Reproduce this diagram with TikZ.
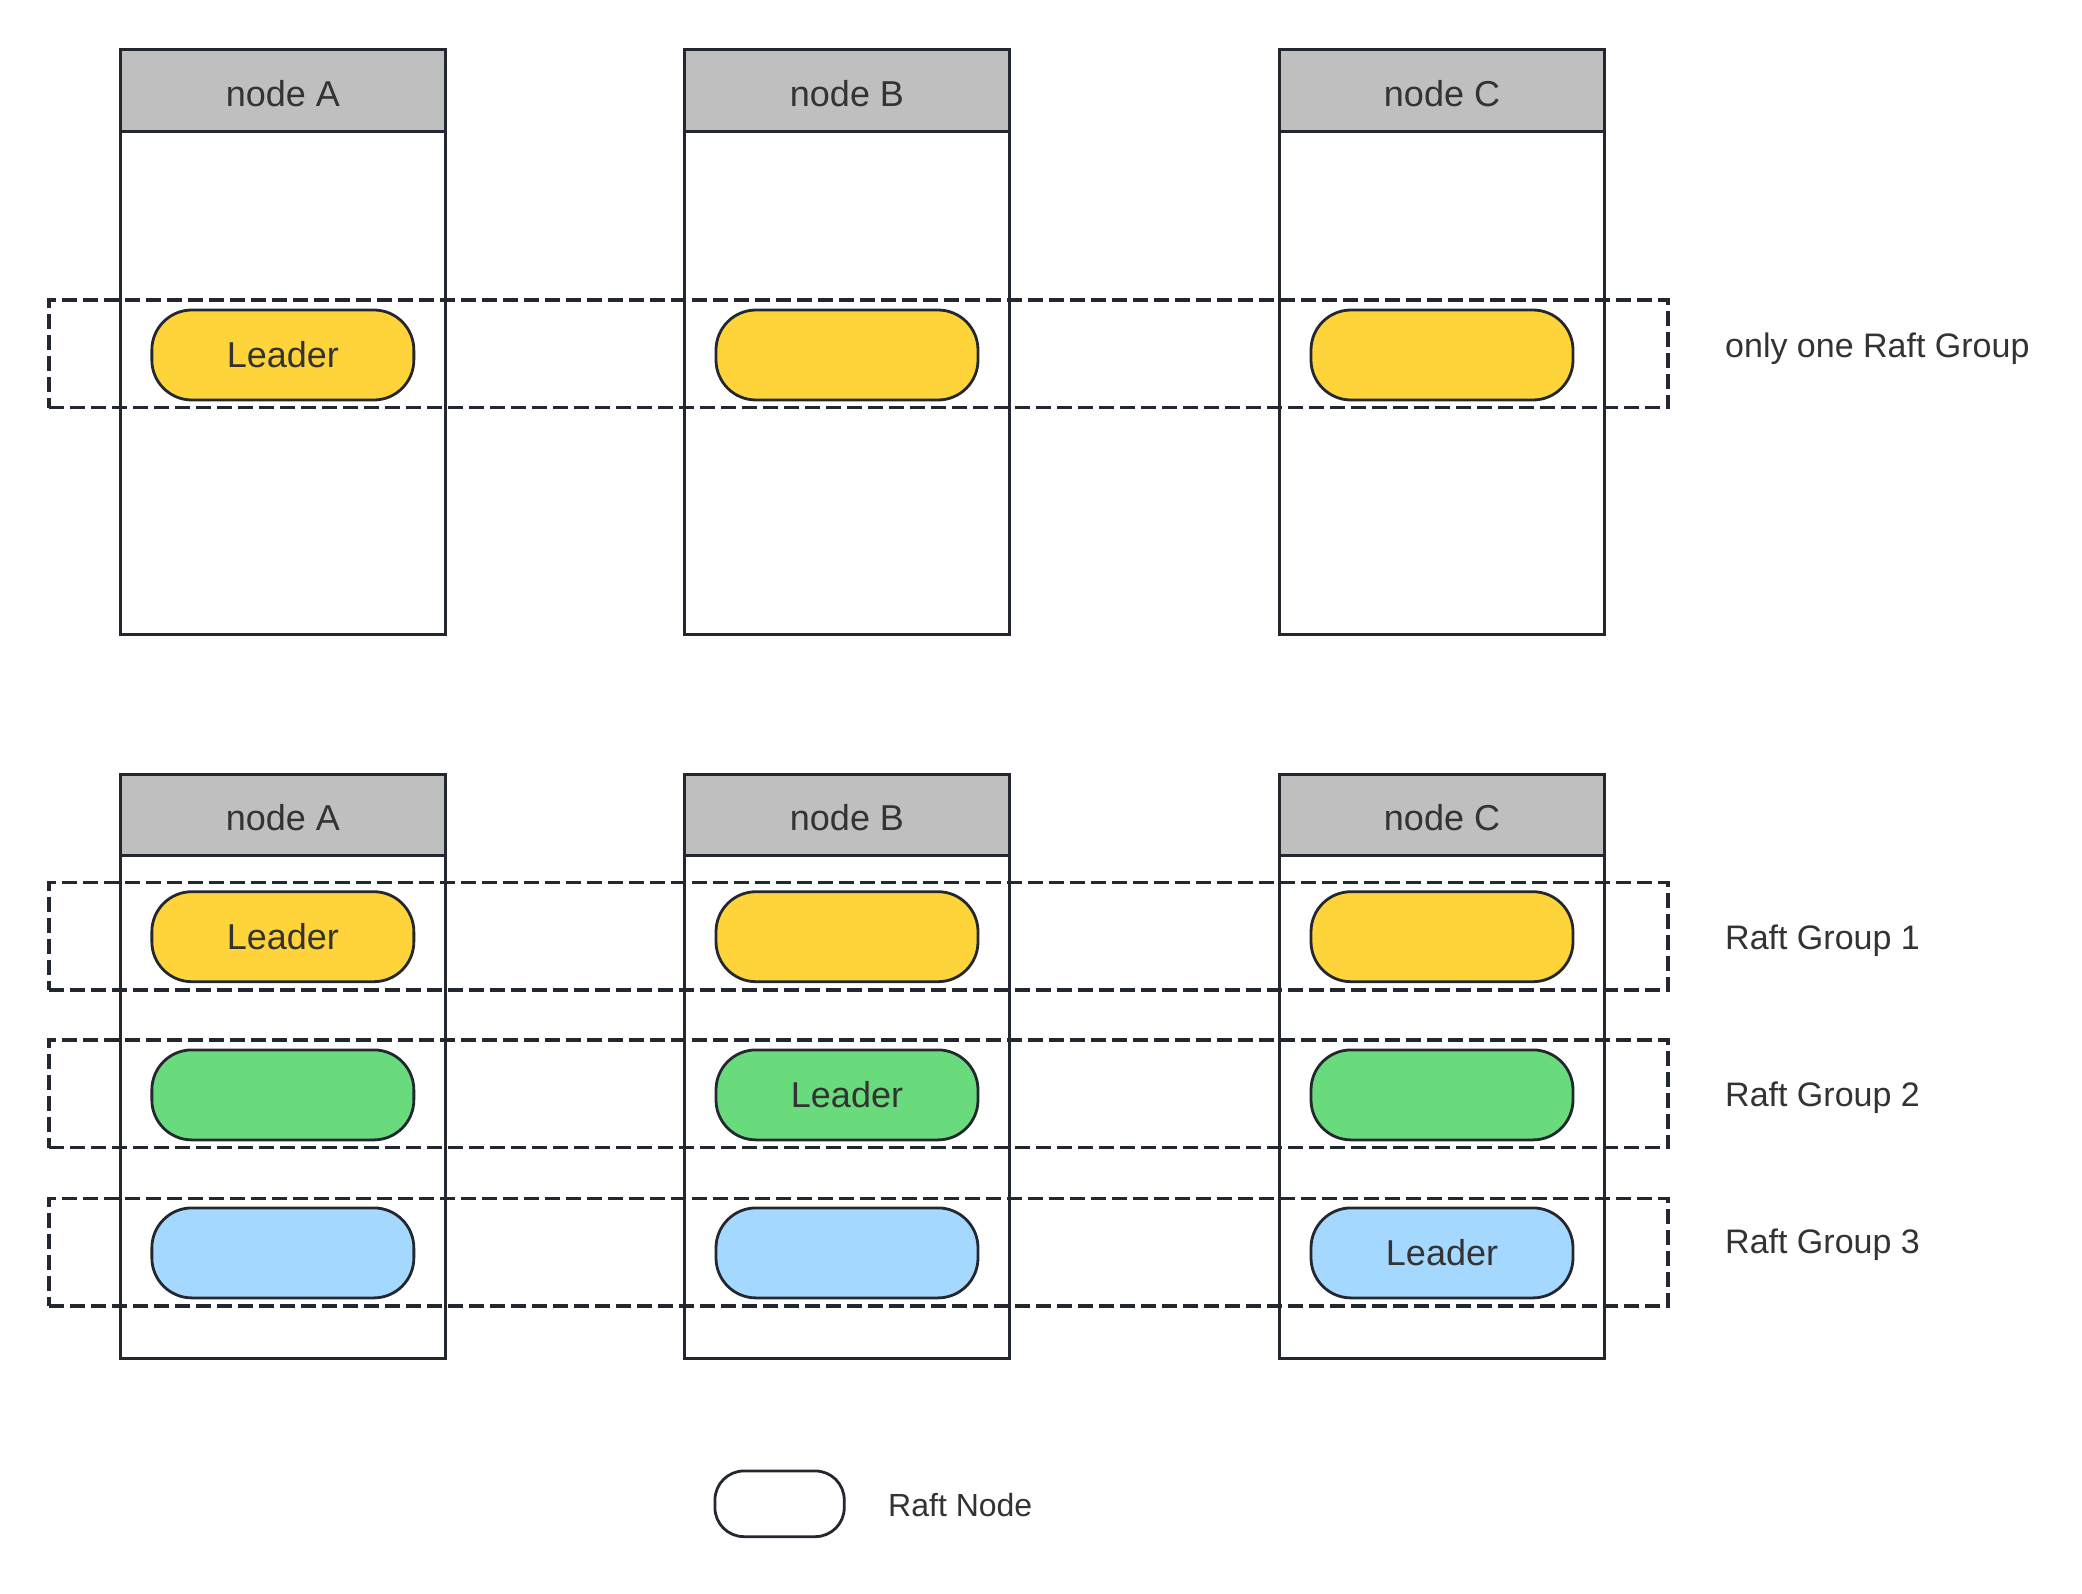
\documentclass[tikz,border=0pt]{standalone}
\usepackage{fontspec}
\setmainfont{Liberation Sans}
\definecolor{linec}{HTML}{232830}
\definecolor{textc}{HTML}{333333}
\definecolor{hdrc}{HTML}{BFBFBF}
\definecolor{ylw}{HTML}{FFD43B}
\definecolor{grn}{HTML}{69DB7C}
\definecolor{blu}{HTML}{A5D8FF}
\begin{document}
\begin{tikzpicture}[x=1pt,y=-1pt,
  body/.style={draw=linec, line width=3pt, fill=white, minimum width=324.3pt, inner sep=0pt},
  hdr/.style={draw=linec, line width=3pt, fill=hdrc, minimum width=324.3pt, minimum height=81.5pt, inner sep=0pt, text=textc, font=\fontsize{36}{42}\selectfont, text height=31pt, text depth=0pt},
  grp/.style={draw=linec, line width=3.3pt, dash pattern=on 15pt off 6pt, minimum width=1619pt, minimum height=107.7pt, inner sep=0pt},
  pill/.style={draw=linec, line width=2.8pt, rounded corners=40pt, minimum width=262pt, minimum height=90pt, inner sep=0pt, text=textc, font=\fontsize{36}{42}\selectfont},
  lbl/.style={text=textc, inner sep=0pt, font=\fontsize{34}{40}\selectfont}]
\useasboundingbox (0,0) rectangle (2082,1594);
% ---------- top section ----------
\node[body, minimum height=584.7pt] (bA1) at (282.85,342.6) {};
\node[body, minimum height=584.7pt] (bB1) at (847,342.6) {};
\node[body, minimum height=584.7pt] (bC1) at (1442,342.6) {};
\node[hdr] (hA1) at (282.85,90.75) {node A};
\node[hdr] (hB1) at (847,90.75) {node B};
\node[hdr] (hC1) at (1442,90.75) {node C};
\node[grp] (g0) at (858.5,353.85) {};
\node[pill, fill=ylw] (pA0) at (282.85,355) {Leader};
\node[pill, fill=ylw] (pB0) at (847,355) {};
\node[pill, fill=ylw] (pC0) at (1442,355) {};
\node[lbl, anchor=base west] (l0) at (1725,357) {only one Raft Group};
% ---------- bottom section ----------
\node[body, minimum height=584.3pt] (bA2) at (282.85,1066.35) {};
\node[body, minimum height=584.3pt] (bB2) at (847,1066.35) {};
\node[body, minimum height=584.3pt] (bC2) at (1442,1066.35) {};
\node[hdr] (hA2) at (282.85,814.95) {node A};
\node[hdr] (hB2) at (847,814.95) {node B};
\node[hdr] (hC2) at (1442,814.95) {node C};
\node[grp] (g1) at (858.5,936.25) {};
\node[grp] (g2) at (858.5,1093.9) {};
\node[grp] (g3) at (858.5,1252.1) {};
\node[pill, fill=ylw] (pA1) at (282.85,936.7) {Leader};
\node[pill, fill=ylw] (pB1) at (847,936.7) {};
\node[pill, fill=ylw] (pC1) at (1442,936.7) {};
\node[pill, fill=grn] (pA2) at (282.85,1094.9) {};
\node[pill, fill=grn] (pB2) at (847,1094.9) {Leader};
\node[pill, fill=grn] (pC2) at (1442,1094.9) {};
\node[pill, fill=blu] (pA3) at (282.85,1252.9) {};
\node[pill, fill=blu] (pB3) at (847,1252.9) {};
\node[pill, fill=blu] (pC3) at (1442,1252.9) {Leader};
\node[lbl, anchor=base west] (l1) at (1725,949.3) {Raft Group 1};
\node[lbl, anchor=base west] (l2) at (1725,1106) {Raft Group 2};
\node[lbl, anchor=base west] (l3) at (1725,1253.5) {Raft Group 3};
% ---------- legend ----------
\node[pill, fill=white, minimum width=129.3pt, minimum height=65.7pt, rounded corners=29pt] (leg) at (779.6,1503.8) {};
\node[lbl, anchor=base west, font=\fontsize{32}{38}\selectfont] (legl) at (888,1516) {Raft Node};
\end{tikzpicture}
\end{document}
